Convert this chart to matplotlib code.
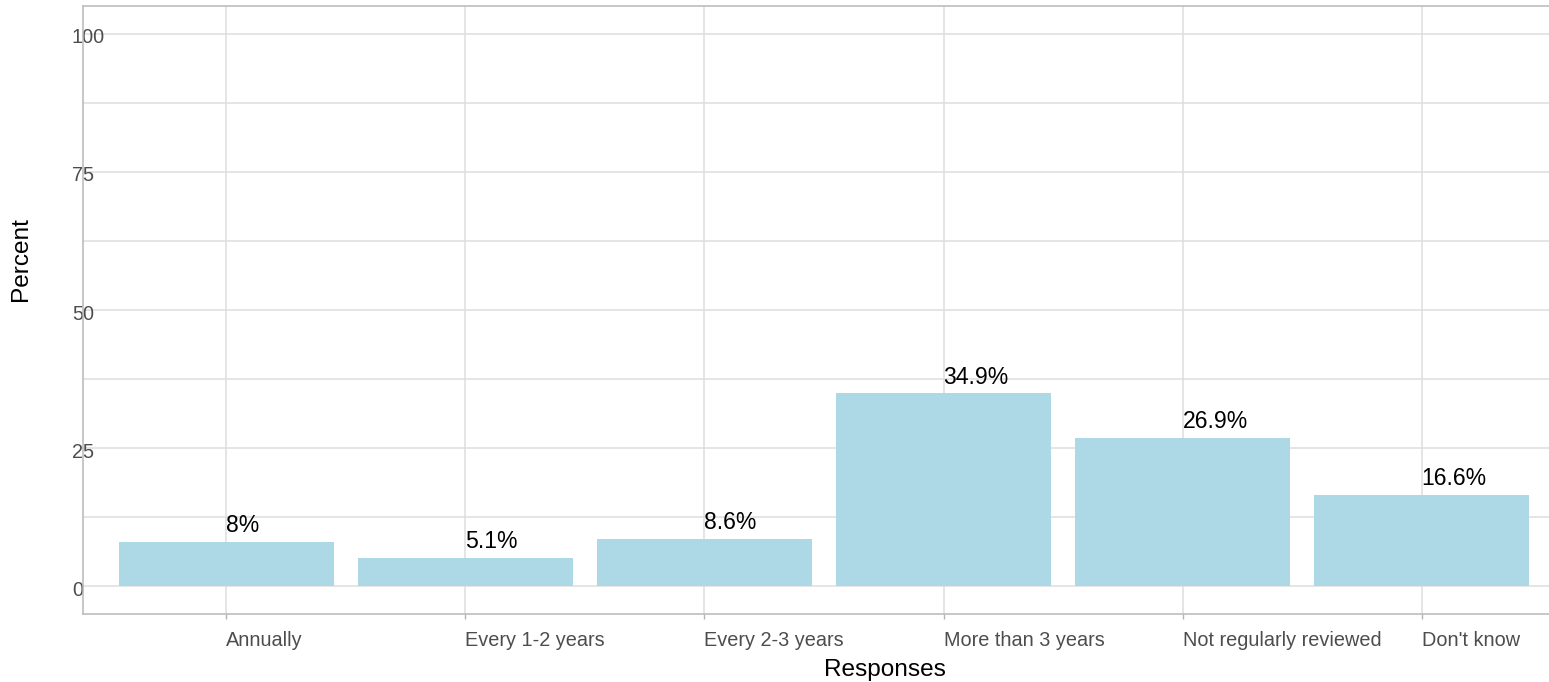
import matplotlib
matplotlib.use('Agg')
import matplotlib.pyplot as plt
import matplotlib.transforms as mtransforms
import numpy as np

categories = ['Annually', 'Every 1-2 years', 'Every 2-3 years', 'More than 3 years',
              'Not regularly reviewed', "Don't know"]
percents = [8, 5.1, 8.6, 34.9, 26.9, 16.6]
labels = ['8%', '5.1%', '8.6%', '34.9%', '26.9%', '16.6%']
yticks = [0, 25, 50, 75, 100]

plt.rcParams['font.family'] = ['Liberation Sans', 'DejaVu Sans']

W, H = 1549, 682
fig = plt.figure(figsize=(W / 100, H / 100), dpi=100)
# panel runs a bit past the right edge of the picture, as in the reference
ax = fig.add_axes([83 / W, 68 / H, 1482 / W, 608 / H])

x = np.arange(len(categories))
ax.bar(x, percents, width=0.9, color='#ADD8E6', zorder=2)
for xi, v, lab in zip(x, percents, labels):
    ax.text(xi, v + 1.8, lab, ha='left', va='baseline', fontsize=16.6, color='black')

ax.set_xlim(-0.6, 5.6)
ax.set_ylim(-5, 105)
ax.set_xticks(x)
ax.set_xticklabels(categories, fontsize=14.3, color='#4D4D4D', ha='left')
ax.set_yticks(yticks)
ax.set_yticklabels([str(t) for t in yticks], fontsize=14.3, color='#4D4D4D', ha='left')
ax.set_yticks([12.5, 37.5, 62.5, 87.5], minor=True)
ax.tick_params(axis='y', which='both', length=0, pad=8)
ax.tick_params(axis='x', length=3.6, width=1.0, color='#B3B3B3', pad=9)

# nudge y tick labels down a touch
shift = mtransforms.ScaledTranslation(0, -2 / 100, fig.dpi_scale_trans)
for lab in ax.get_yticklabels():
    lab.set_transform(lab.get_transform() + shift)

ax.grid(True, which='major', color='#DEDEDE', linewidth=1.1)
ax.grid(True, which='minor', axis='y', color='#DEDEDE', linewidth=1.1)
ax.set_axisbelow(True)

for side in ['left', 'bottom', 'top']:
    ax.spines[side].set_color('#B8B8B8')
    ax.spines[side].set_linewidth(1.1)
ax.spines['right'].set_visible(False)

ax.set_xlabel('Responses', fontsize=17.6, color='black')
ax.xaxis.label.set_ha('left')
ax.xaxis.label.set_va('baseline')
ax.xaxis.set_label_coords(0.5, -62 / 608)

ax.set_ylabel('Percent', fontsize=17.6, color='black')
ax.yaxis.label.set_ha('left')
ax.yaxis.label.set_va('baseline')
ax.yaxis.set_label_coords(-56 / 1482, 0.5 + 9 / 608)

fig.savefig('out.png', dpi=100)
